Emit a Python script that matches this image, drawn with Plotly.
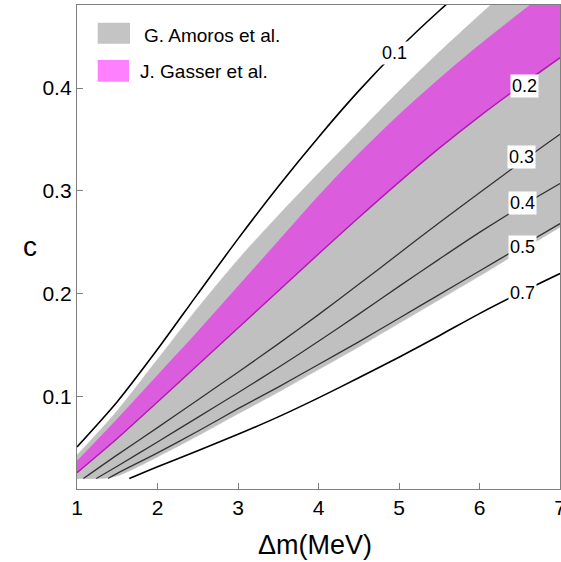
import plotly.graph_objects as go

FONT = "Liberation Sans, Arial, sans-serif"

# ---- data ----
dm_grid = [1.0, 1.5, 2.0, 2.5, 3.0, 3.5, 4.0, 4.5, 5.0, 5.5, 6.0, 6.5, 7.0]

# G. Amoros et al. band
amoros_top = [0.0428, 0.086, 0.136, 0.186, 0.233, 0.276, 0.317, 0.357, 0.397, 0.435, 0.471, 0.506, 0.540]
amoros_bot_dm = [1.0, 1.3, 1.5, 2.0, 2.5, 3.0, 3.5, 4.0, 4.5, 5.0, 5.5, 6.0, 6.5, 7.0]
amoros_bot = [0.02, 0.02, 0.0225, 0.041, 0.0615, 0.083, 0.104, 0.126, 0.148, 0.171, 0.194, 0.217, 0.241, 0.2646]

# J. Gasser et al. band (its lower edge is the 0.2 contour)
gasser_top = [0.037, 0.078, 0.1205, 0.163, 0.207, 0.251, 0.295, 0.336, 0.374, 0.409, 0.442, 0.473, 0.503]
gasser_bot = [0.0257, 0.059, 0.0945, 0.1305, 0.1665, 0.2025, 0.2385, 0.274, 0.3085, 0.3415, 0.3725, 0.4015, 0.4295]

# contour lines
c01_dm = [1.0, 1.5, 2.0, 2.5, 3.0, 3.5, 4.0, 4.5, 5.0, 5.5, 6.0]
c01 = [0.0507, 0.0947, 0.1457, 0.1997, 0.2532, 0.3042, 0.3522, 0.3972, 0.4382, 0.4752, 0.5092]

c03_dm = [1.08, 1.5, 2.0, 2.5, 3.0, 3.5, 4.0, 4.5, 5.0, 5.5, 6.0, 6.5, 7.0]
c03 = [0.02, 0.043, 0.0695, 0.0965, 0.1235, 0.151, 0.1795, 0.209, 0.239, 0.269, 0.298, 0.327, 0.355]

c04_dm = [1.24, 1.5, 2.0, 2.5, 3.0, 3.5, 4.0, 4.5, 5.0, 5.5, 6.0, 6.5, 7.0]
c04 = [0.02, 0.032, 0.0556, 0.0795, 0.1035, 0.128, 0.1535, 0.180, 0.207, 0.2335, 0.2595, 0.284, 0.307]

c05_dm = [1.385, 1.5, 2.0, 2.5, 3.0, 3.5, 4.0, 4.5, 5.0, 5.5, 6.0, 6.5, 7.0]
c05 = [0.02, 0.025, 0.045, 0.066, 0.088, 0.109, 0.131, 0.153, 0.176, 0.199, 0.222, 0.245, 0.268]

c07_dm = [1.65, 2.0, 2.5, 3.0, 3.5, 4.0, 4.5, 5.0, 5.5, 6.0, 6.5, 7.0]
c07 = [0.02, 0.0315, 0.047, 0.063, 0.080, 0.0985, 0.118, 0.138, 0.159, 0.1805, 0.2005, 0.2195]

# contour label texts and their positions (Δm, c)
label_text = ["0.1", "0.2", "0.3", "0.4", "0.5", "0.7"]
label_dm = [4.95, 6.553, 6.524, 6.54, 6.54, 6.528]
label_c = [0.434, 0.4024, 0.3332, 0.2881, 0.2456, 0.2006]

legend_names = ["G. Amoros et al.", "J. Gasser et al."]

GRAY = "#c0c0c0"
MAG_FILL = "#dc5cde"
MAG_EDGE = "#b01cb2"
SPL = dict(shape="spline", smoothing=0.8)

fig = go.Figure()

# gray band
fig.add_trace(go.Scatter(x=amoros_bot_dm, y=amoros_bot, mode="lines",
                         line=dict(color=GRAY, width=0.5, **SPL),
                         showlegend=False, hoverinfo="skip"))
fig.add_trace(go.Scatter(x=dm_grid, y=amoros_top, mode="lines", fill="tonexty",
                         fillcolor=GRAY, line=dict(color=GRAY, width=0.5, **SPL),
                         showlegend=False, hoverinfo="skip"))
# magenta band
fig.add_trace(go.Scatter(x=dm_grid, y=gasser_bot, mode="lines",
                         line=dict(color=MAG_FILL, width=0.5, **SPL),
                         showlegend=False, hoverinfo="skip"))
fig.add_trace(go.Scatter(x=dm_grid, y=gasser_top, mode="lines", fill="tonexty",
                         fillcolor=MAG_FILL, line=dict(color=MAG_FILL, width=0.5, **SPL),
                         showlegend=False, hoverinfo="skip"))
# 0.2 contour = lower edge of magenta band
fig.add_trace(go.Scatter(x=dm_grid, y=gasser_bot, mode="lines",
                         line=dict(color=MAG_EDGE, width=1.5, **SPL),
                         showlegend=False, hoverinfo="skip"))

for xs, ys, col, w in [(c01_dm, c01, "#000000", 1.6),
                       (c03_dm, c03, "#333333", 1.3),
                       (c04_dm, c04, "#333333", 1.3),
                       (c05_dm, c05, "#333333", 1.3),
                       (c07_dm, c07, "#000000", 1.6)]:
    fig.add_trace(go.Scatter(x=xs, y=ys, mode="lines",
                             line=dict(color=col, width=w, **SPL),
                             showlegend=False, hoverinfo="skip"))

annotations = []
for t, xv, yv in zip(label_text, label_dm, label_c):
    annotations.append(dict(x=xv, y=yv, xref="x", yref="y", text=t, showarrow=False,
                            font=dict(family=FONT, size=18, color="#000"),
                            bgcolor="white", borderpad=1))

# legend (drawn manually)
shapes = [
    dict(type="rect", xref="paper", yref="paper", x0=0.0429, x1=0.1097, y0=0.920, y1=0.9634,
         fillcolor="#c4c4c4", line=dict(width=0)),
    dict(type="rect", xref="paper", yref="paper", x0=0.0429, x1=0.1077, y0=0.8415, y1=0.8864,
         fillcolor="#ff80ff", line=dict(width=0)),
]
annotations.append(dict(x=0.1346, y=0.938, xref="paper", yref="paper", text=legend_names[0],
                        showarrow=False, xanchor="left", yanchor="middle",
                        font=dict(family=FONT, size=19, color="#000")))
annotations.append(dict(x=0.1263, y=0.8636, xref="paper", yref="paper", text=legend_names[1],
                        showarrow=False, xanchor="left", yanchor="middle",
                        font=dict(family=FONT, size=19, color="#000")))
# axis titles
annotations.append(dict(x=0.493, y=-0.116, xref="paper", yref="paper", text="Δm(MeV)",
                        showarrow=False, xanchor="center", yanchor="middle",
                        font=dict(family=FONT, size=27, color="#000")))
annotations.append(dict(x=-0.097, y=0.502, xref="paper", yref="paper", text="c",
                        showarrow=False, xanchor="center", yanchor="middle",
                        font=dict(family=FONT, size=28, color="#000")))

axis_common = dict(showgrid=False, zeroline=False, showline=True, mirror=True,
                   linecolor="#7f7f7f", linewidth=1.3, ticks="inside", ticklen=6,
                   tickcolor="#7f7f7f", tickwidth=1.2, ticklabeloverflow="allow",
                   automargin=False,
                   tickfont=dict(family=FONT, size=21, color="#000"))

fig.update_layout(
    width=561, height=562,
    margin=dict(l=77, r=1, t=5, b=73, autoexpand=False),
    paper_bgcolor="white", plot_bgcolor="white",
    xaxis=dict(range=[1, 7], tickvals=[1, 2, 3, 4, 5, 6, 7], **axis_common),
    yaxis=dict(range=[0.0098, 0.4808], tickvals=[0.1, 0.2, 0.3, 0.4],
               ticktext=["0.1", "0.2", "0.3", "0.4"], **axis_common),
    shapes=shapes, annotations=annotations, showlegend=False,
)

fig.write_html("out.html", config={"displayModeBar": False},
               post_script="document.body.style.margin='0';document.body.style.overflow='hidden';")
